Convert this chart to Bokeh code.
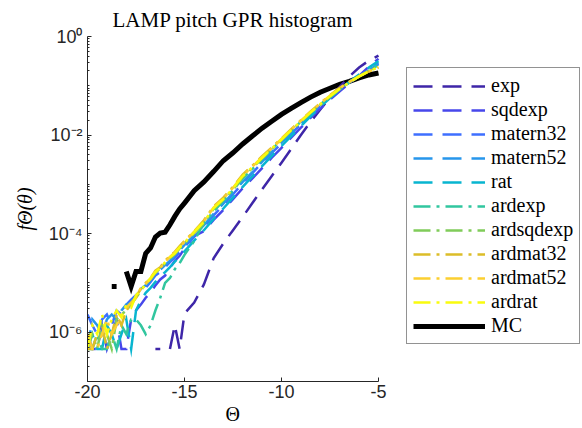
import math
from bokeh.plotting import figure
from bokeh.models import (ColumnDataSource, Legend, LegendItem, FixedTicker,
                          CustomJSTickFormatter, Range1d, Title)
from bokeh.embed import file_html
from bokeh.resources import INLINE

N = float("nan")

# bin centres (Theta)
theta = [-20.0, -19.75, -19.5, -19.25, -19.0, -18.75, -18.5, -18.25, -18.0, -17.75,
         -17.5, -17.25, -17.0, -16.75, -16.5, -16.25, -16.0, -15.75, -15.5, -15.25,
         -15.0, -14.5, -14.0, -13.5, -13.0, -12.5, -12.0, -11.5, -11.0, -10.5,
         -10.0, -9.5, -9.0, -8.5, -8.0, -7.5, -7.0, -6.5, -6.0, -5.5, -5.0]

# log10 of the histogram density (NaN = empty bin)
exp_log = [N, N, N, N, N, N, N, N, N, N, N, N, N, N,
           -6.34, -6.34, N, -6.34, -5.86, -6.34, -5.62, -5.40, -5.03, -4.50, -4.20,
           -3.93, -3.66, -3.38, -3.10, -2.83, -2.56, -2.28, -2.00, -1.73, -1.48,
           -1.24, -1.02, -0.81, -0.63, -0.49, -0.39]
sqdexp_log = [-6.04, -6.34, -6.34, -5.86, -6.34, -6.04, -5.74, -6.34, -6.34, -5.74,
              -5.56, -5.44, -5.30, -5.20, -5.05, -4.93, -4.85, -4.70, -4.55, -4.45,
              -4.30, -4.05, -3.95, -3.72, -3.52, -3.30, -3.08, -2.88, -2.67, -2.46,
              -2.26, -2.05, -1.85, -1.65, -1.46, -1.28, -1.11, -0.95, -0.80, -0.61, -0.45]
matern32_log = [-5.64, -5.86, -6.04, -5.74, -5.64, -5.86, -5.56, -5.64, -5.44, -5.34,
                -5.25, -5.15, -5.10, -4.98, -4.85, -4.78, -4.68, -4.58, -4.48, -4.38,
                -4.27, -4.06, -3.86, -3.63, -3.42, -3.20, -2.98, -2.77, -2.56, -2.36,
                -2.17, -1.97, -1.78, -1.59, -1.41, -1.24, -1.08, -0.94, -0.80, -0.67, -0.54]
matern52_log = [-6.34, -5.74, -5.86, -6.04, -5.74, -5.64, -5.74, -5.56, -5.44, -5.40,
                -5.25, -5.12, -5.05, -4.95, -4.83, -4.73, -4.64, -4.55, -4.45, -4.34,
                -4.23, -4.03, -3.83, -3.60, -3.39, -3.17, -2.95, -2.75, -2.54, -2.34,
                -2.15, -1.96, -1.77, -1.58, -1.40, -1.23, -1.07, -0.93, -0.80, -0.68, -0.56]
rat_log = [-6.34, -6.04, -6.34, -6.34, -5.86, -6.04, -6.34, -6.04, -5.74, -6.34,
           -5.56, -5.36, -5.20, -5.10, -4.98, -4.88, -4.78, -4.68, -4.57, -4.47,
           -4.36, -4.14, -3.93, -3.70, -3.49, -3.27, -3.05, -2.84, -2.63, -2.42,
           -2.22, -2.02, -1.82, -1.62, -1.43, -1.25, -1.08, -0.92, -0.77, -0.63, -0.50]
ardexp_log = [-6.34, -6.34, -6.04, -6.34, -6.34, -6.04, -6.34, -5.86, -6.04, -5.74,
              -5.74, -5.86, -6.04, -5.86, -5.56, -5.30, -5.00, -4.90, -4.72, -4.60,
              -4.43, -4.15, -3.78, -3.55, -3.33, -3.12, -2.88, -2.69, -2.49, -2.29,
              -2.10, -1.91, -1.73, -1.55, -1.38, -1.22, -1.07, -0.94, -0.81, -0.69, -0.58]
ardsqdexp_log = [-6.34, -6.04, -6.34, -5.86, -6.04, -6.34, -5.74, -5.64, -5.56, -5.44,
                 -5.30, -5.17, -5.00, -4.92, -4.80, -4.70, -4.60, -4.50, -4.42, -4.30,
                 -4.20, -3.99, -3.79, -3.50, -3.31, -3.11, -2.85, -2.67, -2.47, -2.29,
                 -2.10, -1.91, -1.73, -1.55, -1.39, -1.23, -1.07, -0.93, -0.81, -0.70, -0.61]
ardmat32_log = [-6.34, -6.34, -6.04, -5.86, -6.34, -6.04, -5.64, -5.86, -5.56, -5.44,
                -5.28, -5.12, -5.00, -4.90, -4.75, -4.68, -4.55, -4.45, -4.37, -4.25,
                -4.15, -3.95, -3.73, -3.45, -3.27, -3.05, -2.80, -2.62, -2.43, -2.25,
                -2.07, -1.88, -1.70, -1.52, -1.35, -1.19, -1.04, -0.92, -0.81, -0.71, -0.63]
ardmat52_log = [-6.04, -6.34, -6.34, -6.04, -5.74, -6.04, -5.86, -5.64, -5.50, -5.40,
                -5.30, -5.10, -5.02, -4.92, -4.77, -4.70, -4.57, -4.47, -4.38, -4.27,
                -4.17, -3.96, -3.75, -3.47, -3.29, -3.07, -2.82, -2.64, -2.45, -2.27,
                -2.08, -1.89, -1.71, -1.53, -1.36, -1.20, -1.05, -0.92, -0.81, -0.71, -0.62]
ardrat_log = [-6.34, -5.86, -6.04, -5.64, -6.04, -5.74, -5.56, -5.70, -5.44, -5.50,
              -5.25, -5.15, -5.03, -4.90, -4.78, -4.69, -4.58, -4.48, -4.40, -4.28,
              -4.18, -3.97, -3.76, -3.48, -3.30, -3.08, -2.83, -2.65, -2.46, -2.27,
              -2.09, -1.90, -1.72, -1.54, -1.37, -1.21, -1.06, -0.93, -0.81, -0.71, -0.62]
mc_log = [N, N, N, N, N, -5.07, -5.07, N, -4.77, -5.07,
          -4.77, -4.77, -4.40, -4.29, -4.07, -3.99, -3.97, -3.82, -3.65, -3.50,
          -3.38, -3.13, -2.95, -2.74, -2.52, -2.36, -2.18, -2.02, -1.86, -1.72,
          -1.58, -1.46, -1.34, -1.23, -1.13, -1.05, -0.97, -0.91, -0.84, -0.78, -0.74]

names = ["exp", "sqdexp", "matern32", "matern52", "rat", "ardexp", "ardsqdexp",
         "ardmat32", "ardmat52", "ardrat", "MC"]
series = [exp_log, sqdexp_log, matern32_log, matern52_log, rat_log, ardexp_log,
          ardsqdexp_log, ardmat32_log, ardmat52_log, ardrat_log, mc_log]
colors = ["#3E26A8", "#4747EB", "#3E6FFF", "#2796EB", "#08B5D0", "#31C69F",
          "#80CC59", "#DCBD29", "#FCCF30", "#F9FB0E", "#000000"]
dashes = ["19 10"] * 5 + ["17 6 3 6"] * 5 + ["solid"]
widths = [2.5] * 10 + [5]

AX = "#262626"

# The frame extends to the right edge so the legend can sit inside it;
# the x axis itself is limited to [-20, -5] through its bounds.
X_END = -20 + 495 / 19.4

p = figure(width=582, height=428, x_range=Range1d(-20, X_END), y_range=Range1d(1e-7, 1),
           y_axis_type="log", output_backend="svg", toolbar_location=None,
           min_border_left=87, min_border_right=0, min_border_top=33,
           min_border_bottom=47, title="LAMP pitch GPR histogram")
p.title.align = "left"
p.title.offset = 25
p.title.text_font = "Liberation Serif"
p.title.text_font_size = "21px"
p.title.text_font_style = "normal"
p.title.text_color = "black"
p.outline_line_color = None
p.xgrid.grid_line_color = None
p.ygrid.grid_line_color = None
p.background_fill_color = "white"
p.border_fill_color = "white"

renderers = {}
order = [10] + list(range(10))
for i in order:
    src = ColumnDataSource(dict(x=theta, y=[10 ** v for v in series[i]]))
    renderers[i] = p.line("x", "y", source=src, line_color=colors[i], line_width=widths[i],
                          line_dash=dashes[i], line_cap="butt", line_join="miter")

# axes
p.xaxis.bounds = (-20, -5)
p.xaxis.ticker = FixedTicker(ticks=[-20, -15, -10, -5])
p.xaxis.major_label_overrides = {-20: "-20", -15: "-15", -10: "-10", -5: "-5"}
p.yaxis.ticker = FixedTicker(ticks=[1e-6, 1e-4, 1e-2, 1.0],
                             minor_ticks=[k * 10.0 ** e for e in range(-7, 0) for k in range(1, 10)])
p.yaxis.formatter = CustomJSTickFormatter(code="""
const e = Math.round(Math.log10(tick));
const m = {"-": "\\u207B", "0": "\\u2070", "1": "\\u00B9", "2": "\\u00B2", "3": "\\u00B3",
           "4": "\\u2074", "5": "\\u2075", "6": "\\u2076", "7": "\\u2077", "8": "\\u2078", "9": "\\u2079"};
return "10" + String(e).split("").map(c => m[c]).join("");
""")
for ax in (p.xaxis[0], p.yaxis[0]):
    ax.axis_line_color = AX
    ax.major_tick_line_color = AX
    ax.minor_tick_line_color = AX
    ax.major_tick_in = 4
    ax.major_tick_out = 0
    ax.minor_tick_in = 2
    ax.minor_tick_out = 0
    ax.major_label_text_font = "Liberation Sans"
    ax.major_label_text_font_size = "18px"
    ax.major_label_text_color = AX
    ax.axis_label_text_font = "Liberation Serif"
    ax.axis_label_text_color = "black"
p.xaxis.minor_tick_line_color = None
p.xaxis.major_label_standoff = 3
p.yaxis.major_label_standoff = 5

# x label: placed as a title below the axis so it is centred on [-20, -5]
xlabel = Title(text="\u0398", align="left", offset=138, standoff=0,
               text_font="Liberation Serif", text_font_size="20px",
               text_font_style="normal", text_color="black")
p.add_layout(xlabel, "below")

p.yaxis.axis_label = "f\u0398(\u03b8)"
p.yaxis.axis_label_text_font_size = "20px"
p.yaxis.axis_label_text_font_style = "italic"
p.yaxis.axis_label_standoff = 10

legend = Legend(items=[LegendItem(label=names[i], renderers=[renderers[i]]) for i in range(11)],
                location=(319, 37))
legend.label_text_font = "Liberation Serif"
legend.label_text_font_size = "20px"
legend.label_text_color = "black"
legend.glyph_width = 72
legend.glyph_height = 20
legend.label_height = 20
legend.label_standoff = 6
legend.spacing = 1
legend.padding = 6
legend.margin = 0
legend.border_line_color = AX
legend.border_line_width = 1
legend.background_fill_color = "white"
legend.background_fill_alpha = 1.0
p.add_layout(legend)

open("out.html", "w", encoding="utf-8").write(file_html(p, INLINE))
